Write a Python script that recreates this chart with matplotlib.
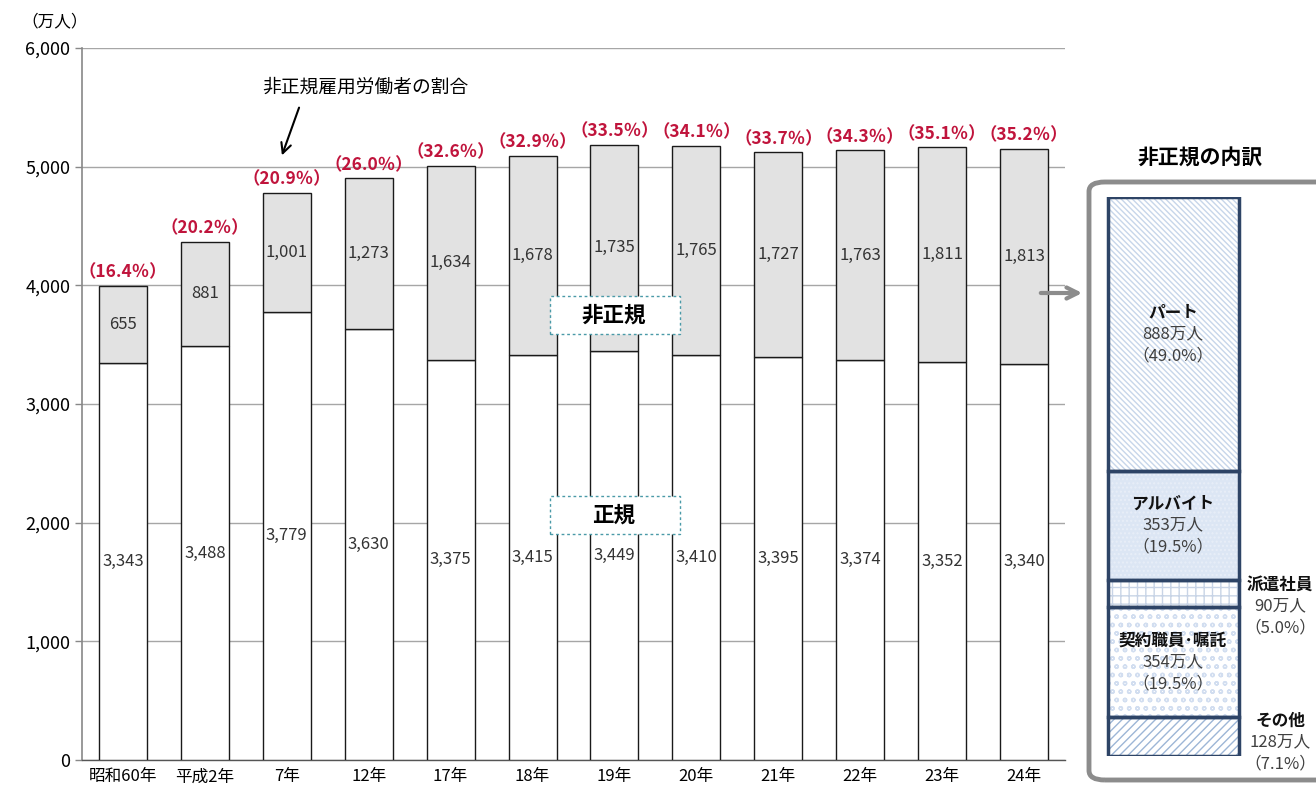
import matplotlib
matplotlib.use("Agg")
import matplotlib.pyplot as plt
from matplotlib.patches import FancyBboxPatch
from matplotlib.ticker import FuncFormatter

plt.rcParams['font.family'] = ['Noto Sans CJK JP', 'DejaVu Sans']

categories = ['昭和60年', '平成2年', '7年', '12年', '17年', '18年', '19年',
              '20年', '21年', '22年', '23年', '24年']
regular = [3343, 3488, 3779, 3630, 3375, 3415, 3449, 3410, 3395, 3374, 3352, 3340]
nonregular = [655, 881, 1001, 1273, 1634, 1678, 1735, 1765, 1727, 1763, 1811, 1813]
ratio = [16.4, 20.2, 20.9, 26.0, 32.6, 32.9, 33.5, 34.1, 33.7, 34.3, 35.1, 35.2]

breakdown_names = ['その他', '契約職員･嘱託', '派遣社員', 'アルバイト', 'パート']
breakdown_values = [128, 354, 90, 353, 888]
breakdown_pct = [7.1, 19.5, 5.0, 19.5, 49.0]

W, H = 1316, 792
fig = plt.figure(figsize=(W / 100, H / 100), dpi=100)

def fx(px):
    return px / W

def fy(py):
    return 1 - py / H

# ---------------- main chart ----------------
ax = fig.add_axes([fx(82), fy(760), fx(1065) - fx(82), fy(48) - fy(760)])
x = list(range(len(categories)))
bw = 0.585
ax.bar(x, regular, width=bw, color='white', edgecolor='#1a1a1a', linewidth=1.0, zorder=3)
ax.bar(x, nonregular, width=bw, bottom=regular, color='#e2e2e2', edgecolor='#1a1a1a',
       linewidth=1.0, zorder=3)

for i in x:
    ax.text(i, regular[i] / 2, f'{regular[i]:,}', ha='center', va='center',
            fontsize=12, color='#333333', zorder=5)
    ax.text(i, regular[i] + nonregular[i] / 2, f'{nonregular[i]:,}', ha='center',
            va='center', fontsize=12, color='#333333', zorder=5)
    ax.annotate(f'（{ratio[i]:.1f}％）', (i, regular[i] + nonregular[i]),
                xytext=(0, 3), textcoords='offset points', ha='center', va='bottom',
                fontsize=12.5, color='#c0143c', fontweight='bold', zorder=5)

ax.set_xlim(-0.5, len(categories) - 0.5)
ax.set_ylim(0, 6000)
ax.set_yticks(range(0, 6001, 1000))
ax.yaxis.set_major_formatter(FuncFormatter(lambda v, p: f'{int(v):,}'))
ax.set_xticks(x)
ax.set_xticklabels(categories, fontsize=12)
ax.tick_params(axis='y', labelsize=13, color='#888888', length=5, width=1)
ax.tick_params(axis='x', length=0, pad=6)
ax.grid(axis='y', color='#a6a6a6', linewidth=1.0, zorder=0)
for s in ['top', 'right']:
    ax.spines[s].set_visible(False)
ax.spines['left'].set_color('#888888')
ax.spines['left'].set_linewidth(1.2)
ax.spines['bottom'].set_color('#555555')
ax.spines['bottom'].set_linewidth(1.0)
ax.set_axisbelow(True)

fig.text(fx(55), fy(22), '（万人）', ha='center', va='center', fontsize=12)

# annotation for ratio
fig.text(fx(365), fy(87), '非正規雇用労働者の割合', ha='center', va='center', fontsize=13.5)
ax.annotate('', xy=(fx(281), fy(158)), xycoords='figure fraction',
            xytext=(fx(300), fy(105)), textcoords='figure fraction',
            arrowprops=dict(arrowstyle='->', color='black', lw=1.5,
                            mutation_scale=18))

# label boxes
for label, py in [('非正規', 315), ('正規', 515)]:
    fig.patches.append(FancyBboxPatch((fx(550), fy(py + 19)), fx(680) - fx(550),
                                      fy(py - 19) - fy(py + 19),
                                      boxstyle='square,pad=0', transform=fig.transFigure,
                                      fc='white', ec='#4a9aa8', ls=(0, (2, 2)), lw=1.0,
                                      zorder=9))
    fig.text(fx(614), fy(py), label, ha='center', va='center', fontsize=15.5,
             fontweight='bold', zorder=10)

# ---------------- breakdown panel ----------------
fig.text(fx(1200), fy(158), '非正規の内訳', ha='center', va='center', fontsize=15,
         fontweight='bold')
fig.patches.append(FancyBboxPatch((fx(1089), fy(780)), fx(1340) - fx(1089),
                                  fy(182) - fy(780),
                                  boxstyle='round,pad=0,rounding_size=0.012',
                                  transform=fig.transFigure, fc='none',
                                  ec='#8c8c8c', lw=3.5, zorder=1))
ax.annotate('', xy=(fx(1085), fy(293)), xycoords='figure fraction',
            xytext=(fx(1038), fy(293)), textcoords='figure fraction',
            arrowprops=dict(arrowstyle='->', color='#8c8c8c', lw=3,
                            mutation_scale=20))

total = sum(breakdown_values)
pax = fig.add_axes([fx(1087), fy(756), fx(1316) - fx(1087), fy(197) - fy(756)])
pax.set_zorder(3)
pax.set_xlim(0, 229)
pax.set_ylim(0, total)
pax.axis('off')

fills = ['white', 'white', 'white', '#dce6f4', 'white']
hatches = ['////', 'oo', '++', '....', '\\\\\\\\\\\\']
hatch_cols = ['#9db6d6', '#d2def0', '#c8d4e6', '#e8eef8', '#c7d6ea']
bottom = 0
navy = '#2e4466'
for k, v in enumerate(breakdown_values):
    pax.bar(86, v, width=131, bottom=bottom, color=fills[k], hatch=hatches[k],
            edgecolor=hatch_cols[k], linewidth=0, zorder=2)
    pax.bar(86, v, width=131, bottom=bottom, fill=False, edgecolor=navy,
            linewidth=2.5, zorder=3)
    bottom += v

txtc = '#404040'
fs = 12
# inside labels
inside = {4: 'パート', 3: 'アルバイト', 1: '契約職員･嘱託'}
cum = [sum(breakdown_values[:k]) for k in range(len(breakdown_values))]
for k, name in inside.items():
    cy = cum[k] + breakdown_values[k] / 2
    pax.text(86, cy + 70, name, ha='center', va='center', fontsize=fs,
             fontweight='bold', color='#111111', zorder=5)
    pax.text(86, cy, f'{breakdown_values[k]}万人', ha='center', va='center',
             fontsize=fs, color=txtc, zorder=5)
    pax.text(86, cy - 70, f'（{breakdown_pct[k]:.1f}%）', ha='center', va='center',
             fontsize=fs, color=txtc, zorder=5)

# outside labels
for k, cyv in [(2, 486), (0, 45)]:
    pax.text(193, cyv + 70, breakdown_names[k], ha='center', va='center', fontsize=fs,
             fontweight='bold', color='#111111', clip_on=False)
    pax.text(193, cyv, f'{breakdown_values[k]}万人', ha='center', va='center',
             fontsize=fs, color=txtc, clip_on=False)
    pax.text(193, cyv - 70, f'（{breakdown_pct[k]:.1f}%）', ha='center', va='center',
             fontsize=fs, color=txtc, clip_on=False)

fig.savefig('out.png', dpi=100)
